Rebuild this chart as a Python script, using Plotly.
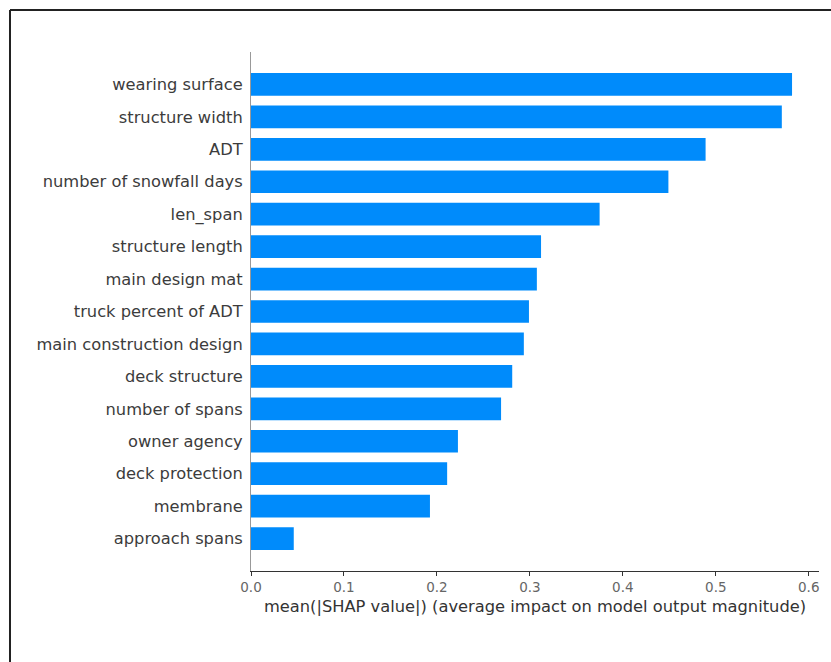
import plotly.graph_objects as go

features = ["approach spans", "membrane", "deck protection", "owner agency",
            "number of spans", "deck structure", "main construction design",
            "truck percent of ADT", "main design mat", "structure length",
            "len_span", "number of snowfall days", "ADT", "structure width",
            "wearing surface"]
values = [0.046, 0.1925, 0.211, 0.2226, 0.269, 0.281, 0.2935, 0.299, 0.3075,
          0.312, 0.375, 0.449, 0.489, 0.571, 0.582]
positions = list(range(len(features)))
xticks = [0.0, 0.1, 0.2, 0.3, 0.4, 0.5, 0.6]
xtick_labels = ["0.0", "0.1", "0.2", "0.3", "0.4", "0.5", "0.6"]

fig = go.Figure(go.Bar(
    x=values, y=positions, orientation="h", width=0.7,
    marker=dict(color="#008bfb", line=dict(width=0)),
))

font = "DejaVu Sans, Liberation Sans, sans-serif"
fig.update_layout(
    width=831, height=662,
    margin=dict(l=251, r=12, t=52, b=91),
    plot_bgcolor="white", paper_bgcolor="white",
    showlegend=False,
    font=dict(family=font, color="#333333"),
    shapes=[
        dict(type="line", xref="paper", yref="paper", x0=-0.4243, x1=1.03,
             y0=1.0809, y1=1.0809, line=dict(color="#222222", width=2)),
        dict(type="line", xref="paper", yref="paper", x0=-0.4243, x1=-0.4243,
             y0=1.0809, y1=-0.2, line=dict(color="#222222", width=2)),
    ],
)
fig.update_yaxes(
    range=[-1, 15], tickvals=positions, ticktext=features,
    showline=True, linecolor="#999999", linewidth=1, ticks="",
    showgrid=False, zeroline=False, ticklabelstandoff=4,
    tickfont=dict(size=16.3, color="#3c3c3c"),
)
fig.update_xaxes(
    range=[0, 0.611], tickvals=xticks, ticktext=xtick_labels,
    showline=True, linecolor="#333333", linewidth=1,
    ticks="outside", ticklen=4, tickcolor="#333333",
    showgrid=False, zeroline=False,
    tickfont=dict(size=13.5, color="#666666"),
    title=dict(text="mean(|SHAP value|) (average impact on model output magnitude)",
               font=dict(size=16.3, color="#333333"), standoff=6),
)
fig.write_html("out.html")
